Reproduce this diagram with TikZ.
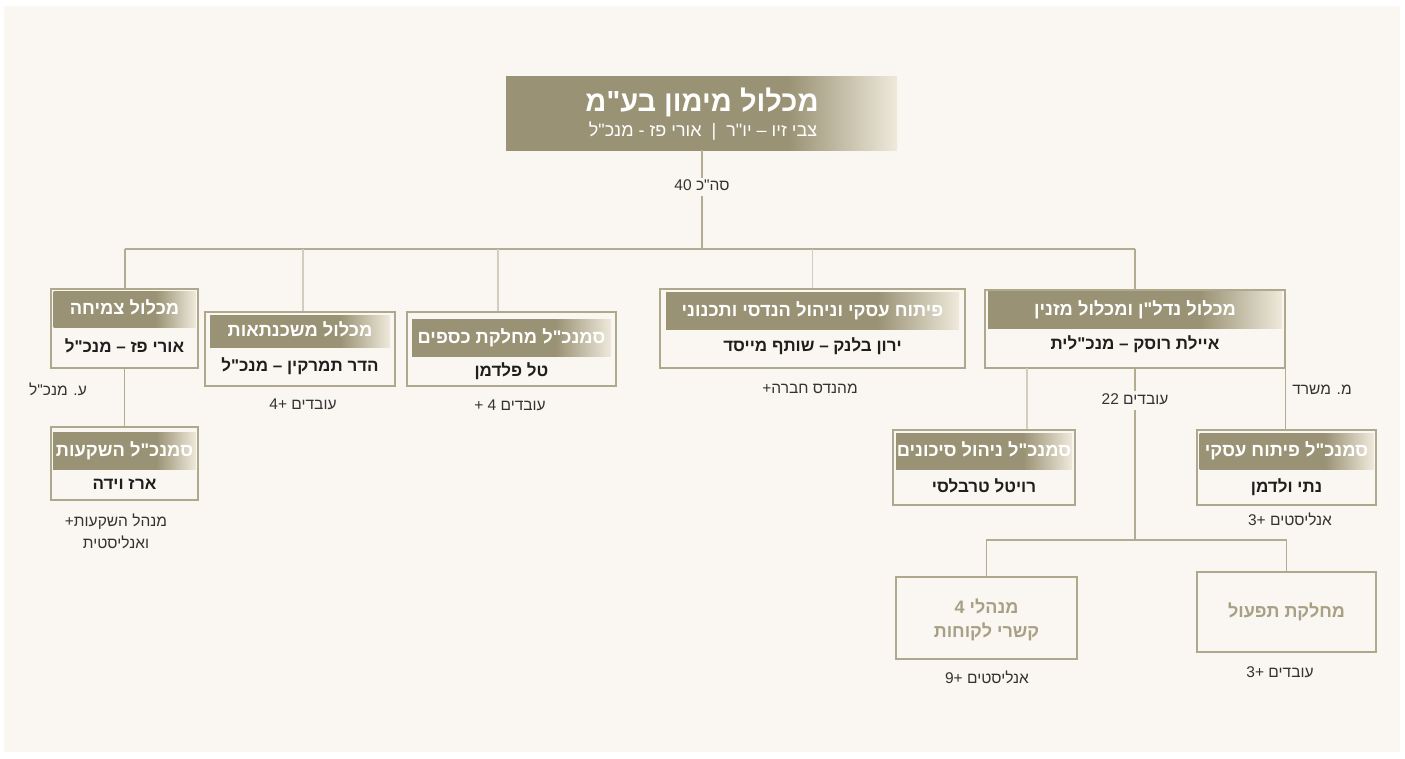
\documentclass[tikz,border=0pt]{standalone}
\usepackage{fontspec}
\setmainfont{Liberation Sans}
\newfontfamily\heb[Script=Hebrew]{Liberation Sans}
\TeXXeTstate=1
\usetikzlibrary{positioning,calc}

\definecolor{paper}{HTML}{FAF7F2}
\definecolor{olive}{HTML}{9A9274}
\definecolor{olivepale}{HTML}{EEE9DB}
\definecolor{frame}{HTML}{AEA88C}
\definecolor{wire}{HTML}{B2AC92}
\definecolor{wirelight}{HTML}{D2CDBC}
\definecolor{khakitext}{HTML}{A7A084}
\definecolor{ink}{HTML}{1E1E1E}
\definecolor{notegray}{HTML}{333333}

\pgfdeclarehorizontalshading{oliveband}{100bp}{color(0bp)=(olive); color(25bp)=(olive); color(61bp)=(olive); color(75bp)=(olivepale); color(100bp)=(olivepale)}

\begin{document}
\begin{tikzpicture}
 [x=1pt,y=-1pt,
 card/.style={
  rectangle,
  draw=frame,
  line width=1.4pt, % border
  fill=paper,
  inner sep=0pt},
 band/.style={
  rectangle,
  shade, shading=oliveband,
  inner sep=0pt,
  minimum height=36pt,
  text=white,
  font=\heb\bfseries\fontsize{18.3}{20}\selectfont,
  text height=10pt, text depth=0pt},
 who/.style={inner sep=0pt, text=ink, font=\heb\bfseries\fontsize{17}{20}\selectfont, text height=9pt, text depth=0pt},
 unit/.style={inner sep=0pt, text=khakitext, font=\heb\bfseries\fontsize{18}{20}\selectfont, text height=10pt, text depth=0pt},
 note/.style={inner sep=0pt, text=notegray, font=\heb\fontsize{15.5}{19}\selectfont, text height=8.5pt, text depth=0pt},
 link/.style={draw=wire, line width=1.4pt},
 faint/.style={draw=wirelight, line width=1.2pt}]
\useasboundingbox (0,0) rectangle (1405,758);
\fill[white] (0,0) rectangle (1405,758);
\fill[paper] (4,6) rectangle (1400,752);

% company
\node (fin) [rectangle, shade, shading=oliveband, inner sep=0pt, minimum width=391pt, minimum height=74pt] at (701.5,113) {};
\node (finT) [inner sep=0pt, text=white, font=\heb\bfseries\fontsize{29}{32}\selectfont, text height=15pt, text depth=0pt] at (702,104) {\beginR מכלול מימון בע"מ\endR};
\node (finS) [inner sep=0pt, text=white, font=\heb\fontsize{18}{21}\selectfont, text height=9.5pt, text depth=0pt] at (703,132) {\beginR צבי זיו – יו"ר \ | \ אורי פז - מנכ"ל\endR};
\node (total) [note] at (702,186) {40 \beginR סה"כ\endR};

% second row
\node (growth) [card, minimum width=147pt, minimum height=79pt] at (124.5,328.5) {};
\node (growthT) [band, minimum width=142pt, below=3pt of growth.north] {\beginR מכלול צמיחה\endR};
\node (growthN) [who] at ($(growthT.south)!.5!(growth.south)$) {\beginR אורי פז – מנכ"ל\endR};

\node (mort) [card, minimum width=190pt, minimum height=74pt] at (300,349) {};
\node (mortT) [band, minimum width=180pt, minimum height=32pt, below=4pt of mort.north] {\beginR מכלול משכנתאות\endR};
\node (mortN) [who] at ($(mortT.south)!.5!(mort.south)$) {\beginR הדר תמרקין – מנכ"ל\endR};

\node (cfo) [card, minimum width=209pt, minimum height=74pt] at (511.5,349) {};
\node (cfoT) [band, minimum width=199pt, minimum height=37pt, below=8pt of cfo.north] {\beginR סמנכ"ל מחלקת כספים\endR};
\node (cfoN) [who] at ($(cfoT.south)!.5!(cfo.south)$) {\beginR טל פלדמן\endR};

\node (eng) [card, minimum width=305pt, minimum height=79pt] at (812.5,328.5) {};
\node (engT) [band, minimum width=293pt, minimum height=37pt, below=4pt of eng.north] {\beginR פיתוח עסקי וניהול הנדסי ותכנוני\endR};
\node (engN) [who] at ($(engT.south)!.45!(eng.south)$) {\beginR ירון בלנק – שותף מייסד\endR};

\node (re) [card, minimum width=300pt, minimum height=78pt] at (1135,329) {};
\node (reT) [band, minimum width=294pt, minimum height=37pt, below=2pt of re.north] {\beginR מכלול נדל"ן ומכלול מזנין\endR};
\node (reN) [who] at ($(reT.south)!.4!(re.south)$) {\beginR איילת רוסק – מנכ"לית\endR};

% third row
\node (invest) [card, minimum width=147pt, minimum height=73pt] at (124.5,463.5) {};
\node (investT) [band, minimum width=143pt, minimum height=37pt, below=6pt of invest.north] {\beginR סמנכ"ל השקעות\endR};
\node (investN) [who] at ($(investT.south)!.5!(invest.south)$) {\beginR ארז וידה\endR};

\node (risk) [card, minimum width=182pt, minimum height=75pt] at (984,467.5) {};
\node (riskT) [band, minimum width=176pt, below=4pt of risk.north] {\beginR סמנכ"ל ניהול סיכונים\endR};
\node (riskN) [who] at ($(riskT.south)!.5!(risk.south)$) {\beginR רויטל טרבלסי\endR};

\node (bizdev) [card, minimum width=179pt, minimum height=75pt] at (1286.5,467.5) {};
\node (bizdevT) [band, minimum width=174pt, below=4pt of bizdev.north] {\beginR סמנכ"ל פיתוח עסקי\endR};
\node (bizdevN) [who] at ($(bizdevT.south)!.5!(bizdev.south)$) {\beginR נתי ולדמן\endR};

% bottom row
\node (crm) [card, minimum width=181pt, minimum height=82pt] at (986.5,618) {};
\node (crmA) [unit] at (986.5,608) {4 \beginR מנהלי\endR};
\node (crmB) [unit] at (986.5,632) {\beginR קשרי לקוחות\endR};

\node (ops) [card, minimum width=179pt, minimum height=80pt] at (1286.5,612) {};
\node (opsT) [unit] at (ops) {\beginR מחלקת תפעול\endR};

% side notes
\node (deputy) [note] at (58,391) {\beginR ע. מנכ"ל\endR};
\node (investX) [note] at (116,522) {+\beginR מנהל השקעות\endR};
\node (investY) [note, below=13.5pt of investX] {\beginR ואנליסטית\endR};
\node (mortX) [note] at (303,405) {+4 \beginR עובדים\endR};
\node (cfoX) [note] at (510,406) {+ 4 \beginR עובדים\endR};
\node (engX) [note] at (810,389) {+\beginR מהנדס חברה\endR};
\node (staff) [note] at (1135,400) {22 \beginR עובדים\endR};
\node (office) [note] at (1322,390) {\beginR מ. משרד\endR};
\node (bizdevX) [note] at (1290,521) {+3 \beginR אנליסטים\endR};
\node (crmX) [note] at (987,679) {+9 \beginR אנליסטים\endR};
\node (opsX) [note] at (1280,673) {+3 \beginR עובדים\endR};

% connectors
\coordinate (busW) at (125,249);
\coordinate (busE) at (1135,249);
\coordinate (busM) at (303,249);
\coordinate (busF) at (498,249);
\coordinate (riskTop) at (1027,368);
\coordinate (opsBus) at (1135,540);
\path[link] (fin.south -| total) -- ([yshift=4pt]total.north);
\path[link] ([yshift=-6pt]total.south) -- (total |- busW);
\path[link] (busW) -- (busE);
\path[link] (busW) -- (growth.north -| busW);
\path[faint] (busM) -- (busM |- mort.north);
\path[faint] (busF) -- (busF |- cfo.north);
\path[faint] (eng.north |- busW) -- (eng.north);
\path[link] (busE) -- (re.north);
\path[link] (growth.south) -- (invest.north);
\path[faint] (riskTop) -- (riskTop |- risk.north);
\path[link] (re.south east) -- (re.south east |- bizdev.north);
\path[link] (re.south) -- ([yshift=5pt]staff.north);
\path[link] ([yshift=-6pt]staff.south) -- (opsBus);
\path[link] (crm.north) -- (crm.north |- opsBus) -- (ops.north |- opsBus) -- (ops.north);
\end{tikzpicture}
\end{document}
